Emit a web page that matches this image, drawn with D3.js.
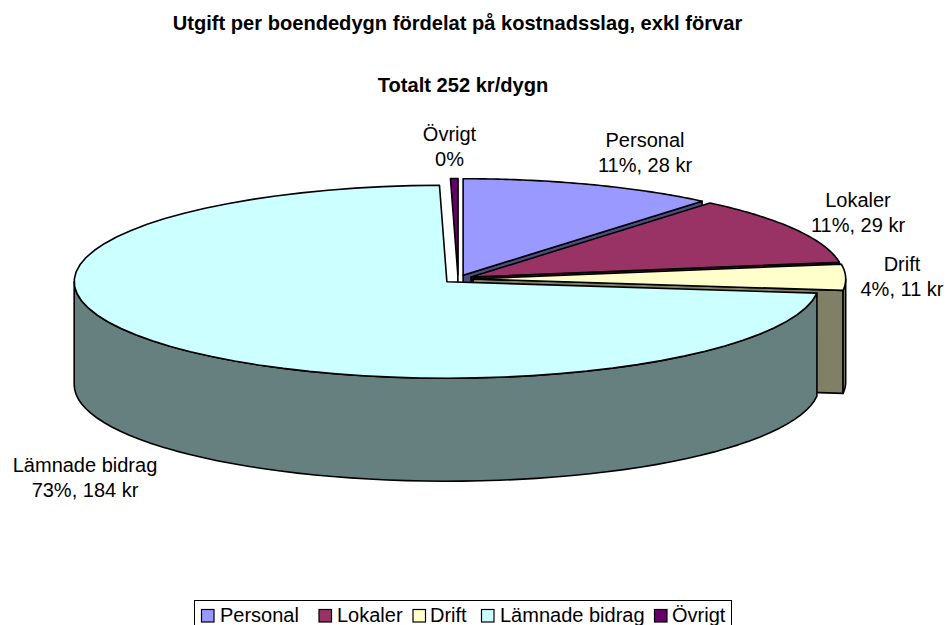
<!DOCTYPE html>
<html><head><meta charset="utf-8">
<style>html,body{margin:0;padding:0;background:#fff}svg{display:block}text{font-family:"Liberation Sans",Arial,sans-serif;fill:#000}</style>
<script src="https://cdn.jsdelivr.net/npm/d3@7/dist/d3.min.js"></script></head>
<body><script>
const categories=["Personal","Lokaler","Drift","Lämnade bidrag","Övrigt"];
const values=[28,29,11,184,0.8];
const percentLabels=["11%","11%","4%","73%","0%"];
const showKr=[true,true,true,true,false];
const colors=["#9999FF","#993366","#FFFFCC","#CCFFFF","#660066"];
const sideColors=["#4D4D80","#4D1A33","#808066","#667F7F","#330033"];
const titleLines=["Utgift per boendedygn fördelat på kostnadsslag, exkl förvar","Totalt 252 kr/dygn"];

const W=946,H=625;
const cx=458,cy=279,rx=372.7,ry=96.5,depth=103,explX=15,explY=4;
const svg=d3.select("body").append("svg").attr("width",W).attr("height",H);
const pie=d3.pie().sort(null).value(d=>d.v)(categories.map((c,i)=>({c,v:values[i],i})));
const line=d3.line();
pie.forEach(p=>{const m=(p.startAngle+p.endAngle)/2;
  p.x=cx+explX*Math.sin(m);p.y=cy-explY*Math.cos(m);
  p.pt=(a,dy=0)=>[p.x+rx*Math.sin(a),p.y-ry*Math.cos(a)+dy];
  p.arc=(a0,a1,dy=0)=>d3.range(0,61).map(k=>p.pt(a0+(a1-a0)*k/60,dy));
});
const g=svg.append("g").attr("stroke","#000").attr("stroke-width",1.6).attr("stroke-linejoin","round");
const HALF=Math.PI/2;
function cutFace(p,a){
  const e=p.pt(a);
  g.append("path").attr("fill",sideColors[p.data.i]).attr("d",line([[p.x,p.y],e,[e[0],e[1]+depth],[p.x,p.y+depth]])+"Z");
}
function wallFace(p){
  const a0=Math.max(p.startAngle,HALF),a1=Math.min(p.endAngle,3*HALF);
  if(a1<=a0)return;
  g.append("path").attr("fill",sideColors[p.data.i]).attr("d",line([...p.arc(a0,a1),...p.arc(a1,a0,depth)])+"Z");
}
function topFace(p){
  g.append("path").attr("fill",colors[p.data.i]).attr("d",line([[p.x,p.y],...p.arc(p.startAngle,p.endAngle)])+"Z");
}
[0,4,1,2,3].forEach(i=>{const p=pie[i];
  if(i!==3)cutFace(p,p.endAngle);
  wallFace(p);topFace(p);
});

svg.selectAll("text.t").data(titleLines).join("text").attr("class","t")
  .attr("x",(d,i)=>i?463:457.5).attr("y",(d,i)=>i?92:30).attr("text-anchor","middle")
  .attr("font-size",20.1).attr("font-weight","bold").text(d=>d);

const labelPos=[[645,147],[858,207],[902,271],[85,472],[449.5,141]];
pie.forEach((p,i)=>{
  const [lx,ly]=labelPos[i];
  const t=svg.append("text").attr("text-anchor","middle").attr("font-size",20);
  t.append("tspan").attr("x",lx).attr("y",ly).text(categories[i]);
  t.append("tspan").attr("x",lx).attr("y",ly+25).text(percentLabels[i]+(showKr[i]?`, ${Math.round(values[i])} kr`:""));
});

const lg=svg.append("g");
lg.append("rect").attr("x",194.5).attr("y",600.5).attr("width",537).attr("height",40).attr("fill","#fff").attr("stroke","#000");
const legX=[201,318.5,412.5,481,654];
const legTextX=[220,337,430,500,672];
categories.forEach((c,i)=>{
  lg.append("rect").attr("x",legX[i]+.5).attr("y",609.5).attr("width",12.5).attr("height",12.5).attr("fill",colors[i]).attr("stroke","#000").attr("stroke-width",1.2);
  lg.append("text").attr("x",legTextX[i]).attr("y",622).attr("font-size",20).text(c);
});
</script></body></html>
